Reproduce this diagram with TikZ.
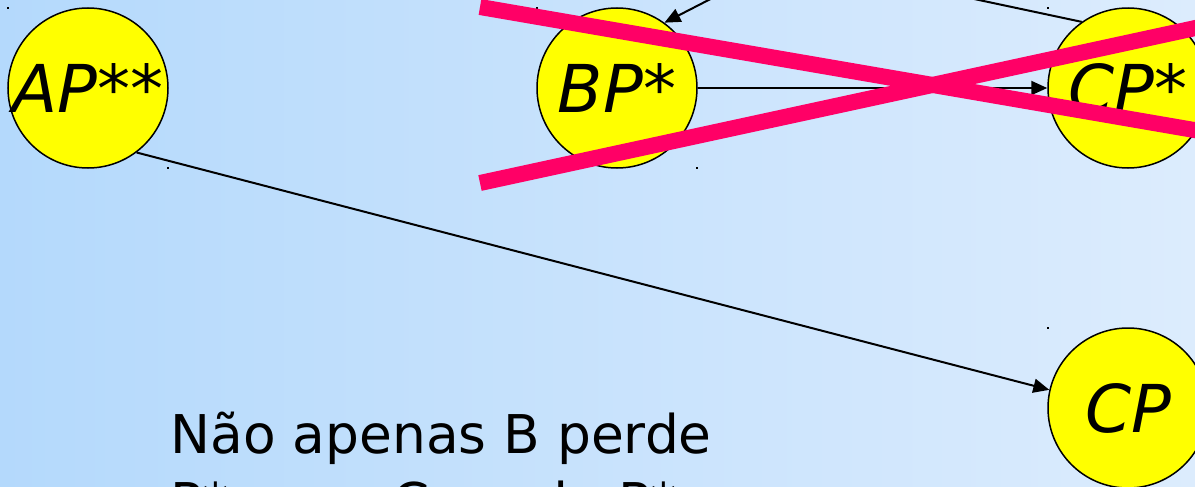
\documentclass[tikz,border=0pt]{standalone}
\usepackage{fontspec}
\setmainfont{DejaVu Sans}
\usetikzlibrary{arrows.meta}
\definecolor{SkyLeft}{HTML}{B4D9FC}
\definecolor{SkyRight}{HTML}{DCECFD}
\definecolor{Cross}{HTML}{FF0066}
\definecolor{Ball}{HTML}{FFFF00}

\begin{document}
\begin{tikzpicture}[x=0.5pt,y=-0.5pt,>={Triangle[length=8pt,width=7pt]}]
\tikzset{
  ball/.style={circle,minimum size=80pt,inner sep=0pt,fill=Ball,draw=black,line width=0.75pt,font=\fontsize{33}{36}\selectfont},
  link/.style={->,black,line width=1pt},
  cross/.style={Cross,line width=8pt}
}
\useasboundingbox (0,0) rectangle (1195,487);
\clip (0,0) rectangle (1195,487);
\shade[left color=SkyLeft,right color=SkyRight] (0,0) rectangle (1195,487);
% tiny selection marks
\fill (7,7) rectangle (9,9);
\fill (167,167) rectangle (169,169);
\fill (536,7) rectangle (538,9);
\fill (696,167) rectangle (698,169);
\fill (1047,7) rectangle (1049,9);
\fill (1047,327) rectangle (1049,329);
\node[ball] (ap) at (88,88) {\itshape AP\upshape**};
\node[ball] (bp) at (617,88) {\itshape BP\upshape*};
\node[ball] (cps) at (1128,88) {\itshape CP\upshape*};
\node[ball] (cp) at (1128,408) {\itshape CP};
\coordinate (up1) at (802,-48);
\coordinate (up2) at (866,-24);
\draw[link] (bp) -- (cps);
\draw[link] (ap.-53) -- (cp.167);
\draw[link] (up1) -- (bp.54);
\draw[black,line width=1pt] (cps.125) -- (up2);
\draw[cross,line cap=butt] (480,7) -- (1200,131);
\draw[cross,line cap=butt] (480,183) -- (1200,27);
\node[anchor=north west,inner sep=0pt,align=left,font=\fontsize{26.7}{34}\selectfont] (note) at (170,412)
  {Não apenas B perde\\P*, mas C perde P*};
\end{tikzpicture}
\end{document}
